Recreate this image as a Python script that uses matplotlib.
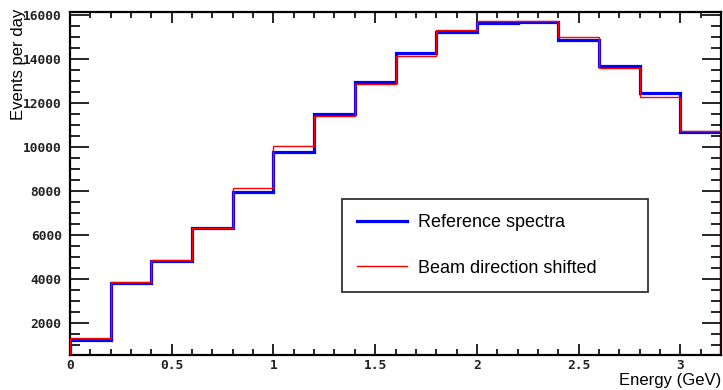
import numpy as np
import matplotlib
matplotlib.use("Agg")
import matplotlib.pyplot as plt
from matplotlib.ticker import MultipleLocator, FixedLocator, FixedFormatter

# Bordes de los bins de energía (GeV)
bordes = np.arange(0, 3.2001, 0.2)

# Eventos por día
referencia = [1200, 3830, 4820, 6300, 7950, 9760, 11500, 12920,
              14250, 15220, 15600, 15680, 14870, 13670, 12420, 10680]
desplazado = [1290, 3870, 4860, 6300, 8110, 10030, 11410, 12840,
              14140, 15280, 15710, 15730, 14980, 13570, 12260, 10700]

etiquetas = ["Reference spectra", "Beam direction shifted"]
x_ticks = [0, 0.5, 1, 1.5, 2, 2.5, 3]
x_ticklabels = ["0", "0.5", "1", "1.5", "2", "2.5", "3"]

ymin, ymax = 540, 16120

fig = plt.figure(figsize=(7.23, 3.90), dpi=100)
ax = fig.add_axes([70/723, 1-355/390, 651/723, 343/390])

ax.stairs(referencia, bordes, baseline=ymin, color="#0000ff", lw=2.3,
          label=etiquetas[0], zorder=2)
ax.stairs(desplazado, bordes, baseline=ymin, color="#ff0000", lw=1.0,
          label=etiquetas[1], zorder=3)

ax.set_xlim(0, 3.2)
ax.set_ylim(ymin, ymax)

# Ejes estilo ROOT
for s in ax.spines.values():
    s.set_linewidth(1.6)
ax.xaxis.set_major_locator(FixedLocator(x_ticks))
ax.xaxis.set_major_formatter(FixedFormatter(x_ticklabels))
ax.xaxis.set_minor_locator(MultipleLocator(0.1))
ax.yaxis.set_major_locator(MultipleLocator(2000))
ax.yaxis.set_minor_locator(MultipleLocator(500))
ax.tick_params(axis="both", which="both", direction="in", top=True, right=True,
               width=1.2, colors="black")
ax.tick_params(axis="y", which="major", length=14, pad=6)
ax.tick_params(axis="y", which="minor", length=7.5)
ax.tick_params(axis="x", which="major", length=8, pad=3)
ax.tick_params(axis="x", which="minor", length=4)
for lab in ax.get_xticklabels() + ax.get_yticklabels():
    lab.set_fontfamily("DejaVu Sans Mono")
    lab.set_fontweight("bold")
    lab.set_fontsize(9.3)
    lab.set_color("#222222")

fig.text(721/723, 1-380/390, "Energy (GeV)", ha="right", va="center",
         fontsize=12, family="Liberation Sans")
fig.text(19/723, 1-9/390, "Events per day", ha="center", va="top",
         rotation=90, fontsize=12, family="Liberation Sans")

h = 0.01
leg = ax.legend(loc="upper left", bbox_to_anchor=(342/723, 1-199/390-h, 306/723, h),
                bbox_transform=fig.transFigure, mode="expand", fancybox=False,
                framealpha=1, edgecolor="#333333", borderpad=0.85, labelspacing=1.56,
                handlelength=2.75, handletextpad=0.62, borderaxespad=0,
                prop={"family": "Liberation Sans", "size": 13})
leg.get_frame().set_linewidth(1.3)
leg.legend_handles[0].set_linewidth(2.3)

fig.savefig("out.png", dpi=100)
